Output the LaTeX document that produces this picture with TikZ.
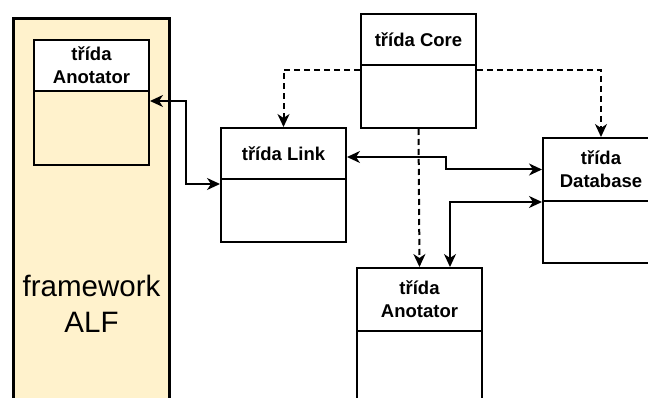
\documentclass[tikz,border=0pt]{standalone}
\usepackage{fontspec}
\setmainfont{Liberation Sans}
\usetikzlibrary{arrows.meta}
\definecolor{fwfill}{HTML}{FFF2CC}
\begin{document}
\begin{tikzpicture}[x=1pt,y=-1pt,
  tip/.tip={Stealth[length=13pt,width=12pt,inset=4pt]},
  classhead/.style={draw=black, line width=2pt, fill=white, anchor=north west,
    inner sep=0pt, align=center, font=\bfseries\fontsize{18.5}{23}\selectfont},
  classbody/.style={draw=black, line width=2pt, anchor=north west, inner sep=0pt},
  link/.style={line width=2pt, tip-tip},
  dep/.style={line width=2pt, dash pattern=on 6pt off 4pt, -tip},
  framebox/.style={draw=black, line width=3pt, fill=fwfill, anchor=north west,
    inner sep=0pt, align=center, font=\fontsize{29.5}{36}\selectfont}]
\useasboundingbox (0,0) rectangle (648,398);
\clip (0,0) rectangle (648,398);

% framework ALF with its own Anotator class
\node[framebox, minimum width=156pt, minimum height=570pt] (fw) at (12,17) {framework\\ALF};
\node[classhead, minimum width=115pt, minimum height=51pt] (a1h) at (33,39) {třída\\Anotator};
\node[classbody, minimum width=115pt, minimum height=74pt] (a1b) at (33,90) {};

% Core
\node[classhead, minimum width=115pt, minimum height=51pt] (coreh) at (360,13) {třída Core};
\node[classbody, fill=white, minimum width=115pt, minimum height=63pt] (coreb) at (360,64) {};

% Link
\node[classhead, minimum width=125pt, minimum height=51pt] (linkh) at (220,127) {třída Link};
\node[classbody, fill=white, minimum width=125pt, minimum height=63pt] (linkb) at (220,178) {};

% Database
\node[classhead, minimum width=116pt, minimum height=63pt] (dbh) at (542,137) {třída\\Database};
\node[classbody, fill=white, minimum width=116pt, minimum height=62pt] (dbb) at (542,200) {};

% Anotator
\node[classhead, minimum width=125pt, minimum height=63pt] (a2h) at (356,267) {třída\\Anotator};
\node[classbody, fill=white, minimum width=125pt, minimum height=100pt] (a2b) at (356,330) {};

% dependencies from Core
\draw[dep] ([yshift=-6pt]coreb.north west) -| (linkh.north);
\draw[dep] ([yshift=-6pt]coreb.north east) -| (dbh.north);
\draw[dep] (coreb.south) -- (a2h.north);

% two-way links
\draw[link] ([yshift=-11pt]a1b.north east) -- ++(36,0) |- ([yshift=-6pt]linkb.north west);
\draw[link] ([yshift=-3.5pt]linkh.east) -- ++(99,0) |- (dbh.west);
\draw[link] ([xshift=30.5pt]a2h.north) |- (dbh.south west);
\end{tikzpicture}
\end{document}
